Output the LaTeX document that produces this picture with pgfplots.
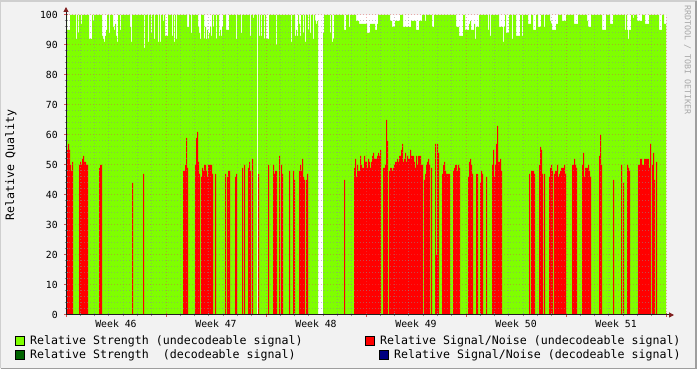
\documentclass[border=0pt]{standalone}
\usepackage{pgfplots}
\pgfplotsset{compat=1.18}
\usepackage{fontspec}
\setmainfont{DejaVu Sans Mono}
\usetikzlibrary{arrows.meta}
\definecolor{bgc}{rgb}{0.95,0.95,0.95}
\definecolor{shadea}{rgb}{0.81,0.81,0.81}
\definecolor{shadeb}{rgb}{0.62,0.62,0.62}
\definecolor{gridc}{rgb}{0.56,0.56,0.56}
\definecolor{mgridc}{rgb}{0.87,0.31,0.31}
\definecolor{arrowc}{rgb}{0.50,0.12,0.12}
\definecolor{axisc}{rgb}{0.12,0.12,0.12}
\definecolor{rsu}{HTML}{7FFF00}
\definecolor{rsd}{HTML}{006400}
\definecolor{snu}{HTML}{FF0000}
\definecolor{snd}{HTML}{000080}
\definecolor{wmark}{rgb}{0.66,0.66,0.66}
\newcommand\ticksz{\fontsize{9.8pt}{10pt}\selectfont}
\newcommand\legsz{\fontsize{11.6pt}{12pt}\selectfont}
\begin{document}
\begin{tikzpicture}[x=1pt,y=1pt]
\fill[bgc] (0,0) rectangle (697,369);
\draw[shadea,line width=2pt] (0,1) -- (0,368) -- (697,368);
\draw[shadeb,line width=2pt] (1,0) -- (696,0) -- (696,368);
\begin{axis}[
  at={(66pt,54pt)}, anchor=origin,
  scale only axis, width=600pt, height=300pt,
  xmin=0, xmax=600, ymin=0, ymax=100,
  axis on top,
  axis background/.style={fill=white},
  axis lines=left,
  axis line style={draw=axisc, line width=1pt},
  x axis line style={-{Triangle[width=5pt,length=5pt,color=arrowc]}, shorten >=-8pt},
  y axis line style={-{Triangle[width=5pt,length=5pt,color=arrowc]}, shorten >=-8pt},
  xtick={0,100,...,600}, xticklabels={},
  minor x tick num=6,
  extra x ticks={50,150,250,350,450,550},
  extra x tick labels={Week 46,Week 47,Week 48,Week 49,Week 50,Week 51},
  extra x tick style={grid=none, major tick length=0pt},
  ytick={0,10,...,100},
  minor y tick num=4,
  grid=both,
  major grid style={draw=mgridc, opacity=0.45, line width=1pt, dash pattern=on 1pt off 2pt},
  minor grid style={draw=gridc, opacity=0.5, line width=1pt, dash pattern=on 1pt off 2pt},
  tick align=center,
  major tick length=4pt, minor tick length=3pt,
  major tick style={draw=mgridc, line width=1pt},
  minor tick style={draw=gridc, line width=1pt},
  /pgf/number format/assume math mode=true,
  yticklabel style={font=\ticksz, inner sep=0pt, xshift=-6pt},
  xticklabel style={font=\ticksz, inner sep=0pt, yshift=-5pt},
]
\addplot[const plot, fill=rsu, draw=none] coordinates {
(0,100)(1,95)(4,100)(10,92)(11,100)(12,94)(13,100)(15,97)(16,100)(23,92)(26,100)(27,98)(28,100)(36,93)(37,92)(38,91)(39,93)(40,95)(41,100)(43,94)(44,100)(47,96)(48,95)(49,97)(50,93)(51,91)(52,100)(54,95)(55,100)(64,96)(65,91)(66,100)(78,89)(79,100)(82,91)(83,100)(85,94)(86,100)(88,92)(89,100)(92,91)(93,100)(94,91)(95,100)(97,98)(98,100)(99,93)(102,100)(106,93)(107,100)(108,91)(109,100)(110,92)(111,100)(121,96)(123,100)(125,94)(126,100)(132,96)(133,94)(134,92)(135,100)(138,92)(139,96)(140,92)(141,95)(142,92)(143,94)(144,96)(145,93)(146,100)(147,96)(148,100)(150,92)(151,100)(153,93)(154,95)(155,93)(156,96)(157,100)(160,95)(163,100)(170,92)(171,100)(175,94)(176,100)(184,93)(185,100)(187,99)(188,100)(191,0)(192,100)(193,93)(194,100)(195,93)(196,100)(198,92)(199,100)(200,92)(203,100)(210,90)(211,100)(225,91)(226,100)(229,93)(230,95)(231,93)(232,100)(233,97)(234,93)(235,100)(237,94)(238,100)(239,91)(240,100)(242,95)(243,100)(244,94)(245,100)(247,92)(248,100)(249,98)(250,97)(251,98)(252,0)(257,94)(258,100)(264,94)(265,100)(266,91)(267,92)(268,100)(278,95)(280,100)(283,96)(284,100)(290,98)(293,97)(301,94)(304,97)(309,95)(311,97)(312,100)(324,98)(326,96)(329,98)(334,100)(337,96)(345,98)(350,95)(353,98)(356,100)(359,98)(360,100)(366,96)(368,100)(390,96)(393,93)(397,100)(399,95)(403,97)(404,98)(405,95)(408,97)(409,92)(410,96)(413,100)(422,95)(423,100)(424,93)(425,100)(433,96)(437,91)(438,96)(439,100)(440,94)(443,100)(446,92)(447,100)(450,93)(454,100)(456,93)(457,100)(462,97)(465,100)(467,95)(470,100)(472,96)(475,100)(478,96)(479,100)(484,98)(485,97)(486,95)(490,97)(492,100)(496,98)(500,100)(508,97)(512,100)(521,98)(522,96)(525,100)(536,95)(540,100)(544,97)(547,100)(559,95)(560,100)(561,95)(562,92)(563,95)(565,100)(567,99)(568,100)(571,98)(576,100)(579,97)(583,100)(593,95)(596,100)(598,97)(600,97)
} \closedcycle;
\addplot[const plot, fill=snu, draw=none] coordinates {
(0,0)(1,55)(2,57)(3,55)(4,50)(5,48)(6,51)(7,0)(13,50)(14,51)(15,50)(16,52)(17,53)(18,51)(20,50)(22,0)(33,49)(34,50)(36,0)(66,44)(67,0)(77,47)(78,0)(117,48)(119,50)(120,59)(121,49)(122,0)(129,50)(130,59)(131,61)(132,51)(133,47)(134,0)(135,46)(136,49)(137,48)(138,50)(140,48)(141,46)(142,50)(146,47)(147,0)(149,47)(150,0)(159,47)(160,0)(161,46)(162,48)(164,0)(169,46)(170,47)(171,0)(176,49)(177,0)(178,50)(179,0)(182,49)(183,51)(184,48)(185,0)(186,52)(187,0)(192,47)(193,0)(202,50)(203,0)(207,50)(208,47)(209,48)(211,0)(213,53)(214,0)(215,50)(216,47)(217,0)(223,48)(224,0)(227,48)(228,45)(229,0)(233,48)(234,50)(235,48)(236,52)(237,46)(238,45)(239,0)(240,45)(241,47)(242,0)(278,45)(279,0)(288,49)(289,52)(290,46)(291,50)(292,48)(294,53)(295,50)(296,49)(298,53)(299,51)(301,49)(302,52)(303,51)(304,49)(305,51)(306,53)(307,54)(308,52)(311,53)(312,54)(313,53)(314,55)(315,0)(317,49)(319,50)(320,65)(321,58)(322,0)(323,48)(324,49)(326,48)(327,49)(328,50)(329,51)(331,52)(332,51)(333,53)(335,55)(336,57)(337,51)(338,52)(339,54)(340,51)(341,53)(342,52)(344,55)(345,53)(348,51)(349,49)(350,53)(351,50)(352,53)(355,50)(357,0)(358,45)(359,47)(360,50)(361,51)(362,52)(363,50)(364,0)(365,49)(366,0)(369,57)(370,20)(371,57)(372,54)(373,0)(376,47)(377,50)(378,51)(379,48)(380,47)(384,0)(387,48)(388,49)(389,50)(391,48)(392,50)(393,49)(394,0)(402,46)(403,51)(404,52)(405,50)(406,47)(407,0)(410,47)(412,0)(414,44)(415,48)(416,47)(417,0)(420,46)(421,0)(426,50)(427,55)(428,46)(429,50)(430,57)(431,63)(432,51)(434,52)(435,48)(436,0)(463,47)(464,0)(465,48)(468,47)(469,0)(473,50)(474,56)(475,55)(476,47)(477,0)(478,47)(479,0)(483,46)(484,49)(485,50)(486,48)(487,0)(488,47)(489,48)(491,50)(492,46)(493,47)(494,48)(495,49)(498,50)(499,47)(500,0)(506,50)(508,52)(509,50)(510,49)(511,0)(516,50)(517,54)(518,46)(519,49)(522,50)(523,48)(524,46)(525,0)(533,53)(534,60)(535,50)(536,0)(547,45)(548,0)(555,50)(556,0)(557,44)(558,0)(561,50)(562,49)(563,48)(564,0)(572,50)(574,52)(576,50)(578,52)(583,49)(584,57)(585,0)(586,50)(587,54)(588,45)(589,0)(590,51)(591,0)(600,0)
} \closedcycle;
\end{axis}
% y label and watermark
\node[rotate=90, font=\legsz, inner sep=0pt] at (11,204) {Relative Quality};
\node[rotate=-90, font=\fontsize{8.3pt}{9pt}\selectfont, text=wmark, inner sep=0pt] at (687.5,309) {RRDTOOL / TOBI OETIKER};
% legend
\draw[fill=rsu, line width=1pt] (15.5,23.5) rectangle (24.5,32.5);
\node[anchor=west, font=\legsz, inner sep=0pt] at (30,28) {Relative Strength (undecodeable signal)};
\draw[fill=rsd, line width=1pt] (15.5,9.5) rectangle (24.5,18.5);
\node[anchor=west, font=\legsz, inner sep=0pt] at (30,14) {Relative Strength\ \ (decodeable signal)};
\draw[fill=snu, line width=1pt] (365.5,23.5) rectangle (374.5,32.5);
\node[anchor=west, font=\legsz, inner sep=0pt] at (380,28) {Relative Signal/Noise (undecodeable signal)};
\draw[fill=snd, line width=1pt] (379.5,9.5) rectangle (388.5,18.5);
\node[anchor=west, font=\legsz, inner sep=0pt] at (394,14) {Relative Signal/Noise (decodeable signal)};
\pgfresetboundingbox
\path[use as bounding box] (0,0) rectangle (697,369);
\end{tikzpicture}
\end{document}
